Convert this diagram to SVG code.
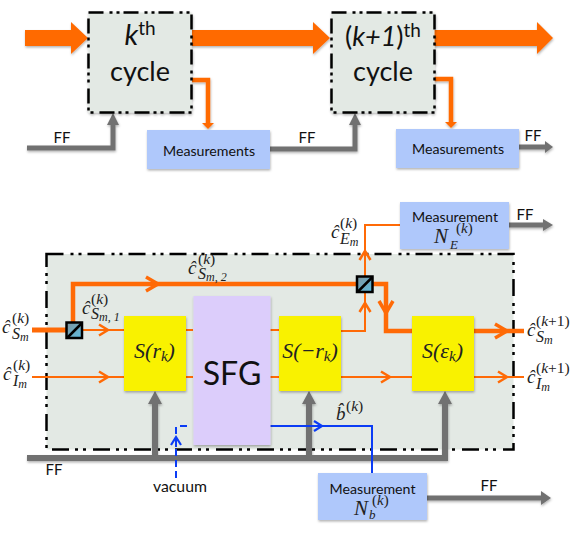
<svg xmlns="http://www.w3.org/2000/svg" width="581" height="543" viewBox="0 0 581 543">
<style>
.t{font-family:"Lato","Open Sans",sans-serif;fill:#111}
.m{font-family:"Liberation Serif",serif;font-style:italic;fill:#222}
.n{font-family:"Liberation Serif",serif;fill:#222}
.frame{fill:#e3e9e4;stroke:#000;stroke-width:2.5;stroke-dasharray:15 6 3 4 3 4}
.frame2{fill:#e3e9e4;stroke:#000;stroke-width:2.5;stroke-dasharray:17 7 3 5 3 6}
.meas{fill:#afc8fb}.yel{fill:#f9f200}
.gl{fill:none;stroke:#717171;stroke-width:5}
.gt{fill:none;stroke:#717171;stroke-width:6}
.ol{fill:none;stroke:#ff6a06;stroke-width:2}
.otk{fill:none;stroke:#ff6a06;stroke-width:4.5}
.bl{fill:none;stroke:#0b3cf5;stroke-width:2}
.gh{fill:#717171}.oh{fill:#ff6a06}
.bs{fill:url(#bsg);stroke:#000;stroke-width:2.5}
</style>
<defs>
<filter id="sh" x="-10%" y="-10%" width="120%" height="120%"><feDropShadow dx="0.5" dy="1.5" stdDeviation="1" flood-color="#000" flood-opacity="0.3"/></filter>
<linearGradient id="bsg" x1="0" y1="0" x2="1" y2="1"><stop offset="0" stop-color="#80949c"/><stop offset="1" stop-color="#5cbde2"/></linearGradient>
<marker id="co" markerUnits="userSpaceOnUse" markerWidth="20" markerHeight="20" viewBox="-12 -10 14 20" refX="0" refY="0" orient="auto"><path d="M-9,-5.5 L0,0 L-9,5.5" fill="none" stroke="#ff6a06" stroke-width="2.5"/></marker>
<marker id="cot" markerUnits="userSpaceOnUse" markerWidth="24" markerHeight="24" viewBox="-15 -12 17 24" refX="0" refY="0" orient="auto"><path d="M-12,-7 L0,0 L-12,7" fill="none" stroke="#ff6a06" stroke-width="3.5"/></marker>
<marker id="cb" markerUnits="userSpaceOnUse" markerWidth="20" markerHeight="20" viewBox="-12 -10 14 20" refX="0" refY="0" orient="auto"><path d="M-8,-5 L0,0 L-8,5" fill="none" stroke="#0b3cf5" stroke-width="2.2"/></marker>
</defs>

<g id="loop-frame"><rect class="frame2" x="46.500" y="254" width="467" height="195.500"/></g>

<g id="connectors">
<g filter="url(#sh)">
<polygon class="oh" points="25,30 71,30 71,22 88,38 71,54 71,46 25,46"/>
<polygon class="oh" points="192,30 313,30 313,22 330,38 313,54 313,46 192,46"/>
<polygon class="oh" points="434,30 537,30 537,22 553,38 537,54 537,46 434,46"/>
<path class="otk" d="M192,80 H208 V124"/><polygon class="oh" points="202,123 214,123 208,129"/>
<path class="otk" d="M434,79 H451 V123"/><polygon class="oh" points="445,122 457,122 451,128"/>
<path class="gl" d="M27,148 H113 V122"/><polygon class="gh" points="107,125 119,125 113,113"/>
<path class="gl" d="M270,149 H355 V122"/><polygon class="gh" points="349,125 361,125 355,113"/>
<path class="gl" d="M519,147 H546"/><polygon class="gh" points="545,141 553,147 545,153"/>
<path class="gt" d="M27,458 H445 V400"/><path class="gt" d="M155,458 V400"/><path class="gt" d="M309,458 V400"/>
<polygon class="gh" points="148,404 162,404 155,391"/><polygon class="gh" points="302,404 316,404 309,391"/><polygon class="gh" points="438,404 452,404 445,391"/>
<path class="gl" d="M427,498 H543"/><polygon class="gh" points="541,491 551,498 541,505"/>
<path class="gl" d="M509,225 H545"/><polygon class="gh" points="543,219 553,225 543,231"/>
</g>
<path class="otk" d="M32,330 H67" style="stroke-width:5"/>
<path class="otk" d="M73,323 V284 H158" marker-end="url(#cot)"/>
<path class="otk" d="M158,284 H358"/>
<path class="otk" d="M372,284 H386 V313" marker-end="url(#cot)"/>
<path class="otk" d="M386,313 V331 H412"/>
<path class="otk" d="M474,331 H507" marker-end="url(#cot)"/><path class="otk" d="M507,331 H524"/>
<path class="ol" d="M82,330 H108" marker-end="url(#co)"/><path class="ol" d="M108,330 H124"/>
<path class="ol" d="M32,377 H108" marker-end="url(#co)"/><path class="ol" d="M108,377 H124"/>
<path class="ol" d="M186,330 H193 M270,330 H279 M186,377 H193 M270,377 H279"/>
<path class="ol" d="M341,331 H365 V303" marker-end="url(#co)"/><path class="ol" d="M365,303 V292"/>
<path class="ol" d="M365,276 V251" marker-end="url(#co)"/><path class="ol" d="M365,251 V225 H400"/>
<path class="ol" d="M341,377 H390" marker-end="url(#co)"/><path class="ol" d="M390,377 H412"/>
<path class="ol" d="M474,377 H507" marker-end="url(#co)"/><path class="ol" d="M507,377 H524"/>
<path class="bl" d="M270,426 H322" marker-end="url(#cb)"/><path class="bl" d="M322,426 H372 V473"/>
<path class="bl" d="M176,478 V438" stroke-dasharray="7 4"/><path class="bl" d="M176,447 V437" marker-end="url(#cb)"/>
<path class="bl" d="M176,434 V426 H190" stroke-dasharray="7 5"/>
</g>

<g id="cycle-k"><rect class="frame" x="88.500" y="12.500" width="103" height="100" filter="url(#sh)"/>
<text class="t" x="140" y="45" font-size="29" text-anchor="middle"><tspan font-style="italic">k</tspan><tspan font-size="19" dy="-10">th</tspan></text>
<text class="t" x="140" y="81" font-size="27" text-anchor="middle">cycle</text></g>
<g id="cycle-k1"><rect class="frame" x="331.500" y="12.500" width="103" height="100" filter="url(#sh)"/>
<text class="t" x="383" y="46" font-size="27" text-anchor="middle">(<tspan font-style="italic">k+1</tspan>)<tspan font-size="19" dy="-9">th</tspan></text>
<text class="t" x="383" y="81" font-size="27" text-anchor="middle">cycle</text></g>
<g id="measurements-1"><rect class="meas" x="147" y="130" width="123" height="39" filter="url(#sh)"/><text class="t" x="209" y="156" font-size="14.200" text-anchor="middle">Measurements</text></g>
<g id="measurements-2"><rect class="meas" x="396" y="129" width="123" height="39" filter="url(#sh)"/><text class="t" x="458" y="154" font-size="14.200" text-anchor="middle">Measurements</text></g>
<g id="ff-labels">
<text class="t" x="62" y="143" font-size="15" text-anchor="middle">FF</text>
<text class="t" x="307" y="143" font-size="15" text-anchor="middle">FF</text>
<text class="t" x="533" y="141" font-size="15" text-anchor="middle">FF</text>
<text class="t" x="525" y="220" font-size="15" text-anchor="middle">FF</text>
<text class="t" x="54" y="475" font-size="15" text-anchor="middle">FF</text>
<text class="t" x="489" y="491" font-size="15" text-anchor="middle">FF</text>
<text class="t" x="180" y="492" font-size="15.800" text-anchor="middle">vacuum</text>
</g>
<g id="splitter-1"><rect class="bs" x="66.500" y="322.500" width="15.500" height="15.500"/><path d="M67,338 L82,323" stroke="#000" stroke-width="2.500"/></g>
<g id="splitter-2"><rect class="bs" x="357" y="276.500" width="15.500" height="15.500"/><path d="M357.500,292 L372.500,277" stroke="#000" stroke-width="2.500"/></g>
<g id="s-r"><rect class="yel" x="124" y="316" width="62" height="75" filter="url(#sh)"/>
<text class="m" x="154.500" y="358" font-size="22" text-anchor="middle">S<tspan class="n">(</tspan>r<tspan font-size="15" dy="3">k</tspan><tspan class="n" dy="-3">)</tspan></text></g>
<g id="sfg"><rect x="193.500" y="296" width="77" height="149" fill="#dccdfb" filter="url(#sh)"/>
<text class="t" x="232" y="385" font-size="32" text-anchor="middle">SFG</text></g>
<g id="s-mr"><rect class="yel" x="279" y="316" width="62" height="75" filter="url(#sh)"/>
<text class="m" x="310" y="358" font-size="22" text-anchor="middle">S<tspan class="n">(−</tspan>r<tspan font-size="15" dy="3">k</tspan><tspan class="n" dy="-3">)</tspan></text></g>
<g id="s-e"><rect class="yel" x="412" y="316" width="62" height="75" filter="url(#sh)"/>
<text class="m" x="442.500" y="358" font-size="22" text-anchor="middle">S<tspan class="n">(</tspan>ε<tspan font-size="15" dy="3">k</tspan><tspan class="n" dy="-3">)</tspan></text></g>
<g id="measurement-e"><rect class="meas" x="400" y="202" width="109" height="47" filter="url(#sh)"/>
<text class="t" x="455" y="222" font-size="14.200" text-anchor="middle">Measurement</text>
<text class="m" x="434" y="243" font-size="21">N</text><text class="n" x="456" y="233" font-size="15">(<tspan font-style="italic">k</tspan>)</text><text class="m" x="450" y="249" font-size="13">E</text></g>
<g id="measurement-b"><rect class="meas" x="318" y="473" width="109" height="47" filter="url(#sh)"/>
<text class="t" x="372.500" y="494" font-size="14.200" text-anchor="middle">Measurement</text>
<text class="m" x="354" y="515" font-size="21">N</text><text class="n" x="372" y="505" font-size="15">(<tspan font-style="italic">k</tspan>)</text><text class="m" x="369" y="519" font-size="13">b</text></g>
<g id="math-labels">
<text class="m" x="2" y="333" font-size="19">ĉ</text><text class="n" x="12" y="323" font-size="15.500">(<tspan font-style="italic">k</tspan>)</text><text class="m" x="12" y="339" font-size="16">S<tspan font-size="12" dy="2">m</tspan></text>
<text class="m" x="3" y="380" font-size="19">ĉ</text><text class="n" x="13" y="370" font-size="15.500">(<tspan font-style="italic">k</tspan>)</text><text class="m" x="13" y="386" font-size="16">I<tspan font-size="12" dy="2">m</tspan></text>
<text class="m" x="82" y="314" font-size="19">ĉ</text><text class="n" x="91" y="304" font-size="15.500">(<tspan font-style="italic">k</tspan>)</text><text class="m" x="91" y="319" font-size="16">S<tspan font-size="12" dy="2">m</tspan><tspan class="n" font-size="12">, 1</tspan></text>
<text class="m" x="188" y="274" font-size="19">ĉ</text><text class="n" x="198" y="264" font-size="15.500">(<tspan font-style="italic">k</tspan>)</text><text class="m" x="198" y="279" font-size="16">S<tspan font-size="12" dy="2">m</tspan><tspan class="n" font-size="12">, 2</tspan></text>
<text class="m" x="331" y="238" font-size="19">ĉ</text><text class="n" x="340" y="228" font-size="15.500">(<tspan font-style="italic">k</tspan>)</text><text class="m" x="340" y="244" font-size="16">E<tspan font-size="12" dy="2">m</tspan></text>
<text class="m" x="527" y="336" font-size="19">ĉ</text><text class="n" x="536" y="326" font-size="15.500">(<tspan font-style="italic">k</tspan>+1)</text><text class="m" x="536" y="342" font-size="16">S<tspan font-size="12" dy="2">m</tspan></text>
<text class="m" x="527" y="383" font-size="19">ĉ</text><text class="n" x="536" y="373" font-size="15.500">(<tspan font-style="italic">k</tspan>+1)</text><text class="m" x="536" y="389" font-size="16">I<tspan font-size="12" dy="2">m</tspan></text>
<text class="m" x="336" y="420" font-size="19">b̂</text><text class="n" x="346" y="411" font-size="15.500">(<tspan font-style="italic">k</tspan>)</text>
</g>
</svg>
